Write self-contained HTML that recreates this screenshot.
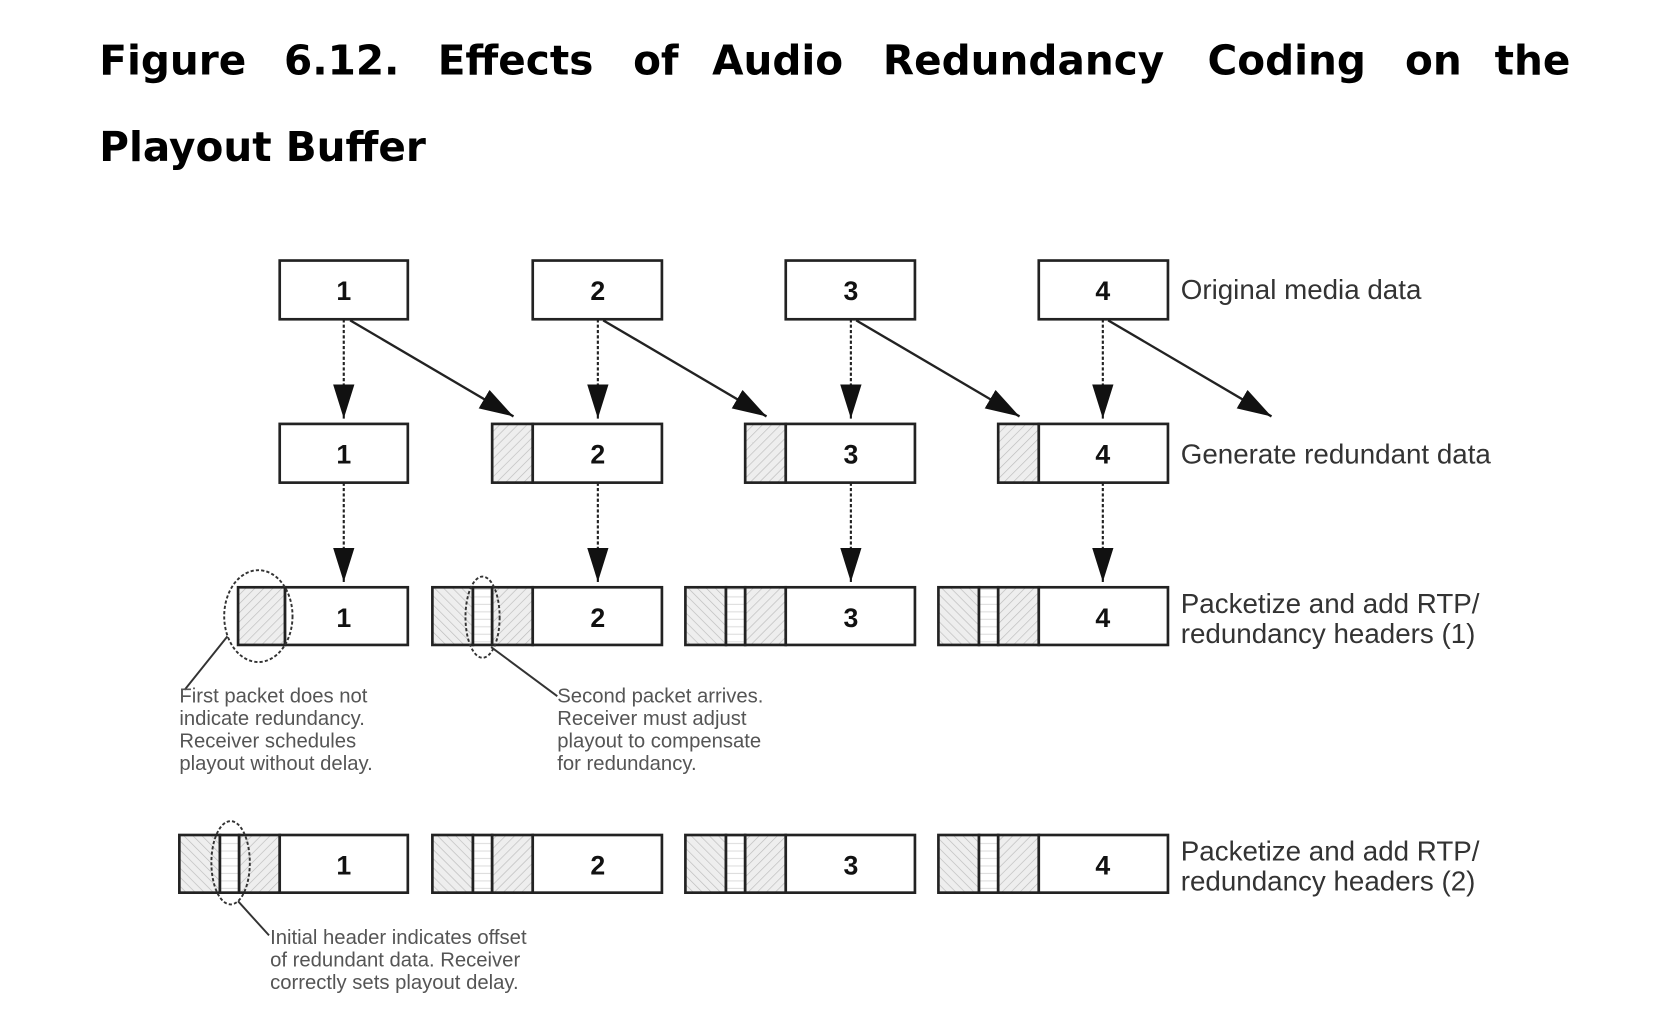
<!DOCTYPE html>
<html><head><meta charset="utf-8"><style>html,body{margin:0;padding:0;background:#fff;}svg{display:block}</style></head>
<body>
<svg width="1674" height="1024" viewBox="0 0 1568 959" preserveAspectRatio="none" xmlns="http://www.w3.org/2000/svg">
<defs>
<pattern id="h1" width="6" height="6" patternUnits="userSpaceOnUse" patternTransform="rotate(45)"><rect width="6" height="6" fill="#eee"/><line x1="0" y1="0" x2="0" y2="6" stroke="#bbb" stroke-width="1.2"/></pattern>
<pattern id="h2" width="6" height="6" patternUnits="userSpaceOnUse" patternTransform="rotate(-45)"><rect width="6" height="6" fill="#eee"/><line x1="0" y1="0" x2="0" y2="6" stroke="#bbb" stroke-width="1.2"/></pattern>
<pattern id="st" width="6" height="7" patternUnits="userSpaceOnUse"><rect width="6" height="7" fill="#fff"/><line x1="0" y1="6" x2="6" y2="6" stroke="#ddd" stroke-width="1"/></pattern>
<marker id="ah" markerWidth="12" markerHeight="14" refX="12" refY="7" orient="auto" markerUnits="userSpaceOnUse" viewBox="0 0 12 14"><path d="M0,0 L12,7 L0,14 Z" fill="#111"/></marker>
<marker id="ahl" markerWidth="32" markerHeight="20" refX="32" refY="10" orient="auto" markerUnits="userSpaceOnUse"><path d="M0,0 L32,10 L0,20 Z" fill="#111"/></marker>
</defs>
<g font-family="DejaVu Sans, Verdana, sans-serif" font-weight="bold" font-size="38" fill="#000">
<text x="93" y="70">Figure</text><text x="266" y="70">6.12.</text><text x="410" y="70">Effects</text><text x="593" y="70">of</text><text x="667" y="70">Audio</text><text x="827" y="70">Redundancy</text><text x="1131" y="70">Coding</text><text x="1316" y="70">on</text><text x="1400" y="70">the</text>
<text x="93" y="151">Playout Buffer</text>
</g>
<g stroke="#222" stroke-width="2.5" fill="#fff">
<!-- row1 -->
<rect x="262" y="244" width="120" height="55"/><rect x="499" y="244" width="121" height="55"/><rect x="736" y="244" width="121" height="55"/><rect x="973" y="244" width="121" height="55"/>
<!-- row2 -->
<rect x="262" y="397" width="120" height="55"/>
<rect x="461" y="397" width="38" height="55" fill="url(#h1)"/><rect x="499" y="397" width="121" height="55"/>
<rect x="698" y="397" width="38" height="55" fill="url(#h1)"/><rect x="736" y="397" width="121" height="55"/>
<rect x="935" y="397" width="38" height="55" fill="url(#h1)"/><rect x="973" y="397" width="121" height="55"/>
<!-- row3 -->
<rect x="223" y="550" width="44" height="54" fill="url(#h1)"/><rect x="267" y="550" width="115" height="54"/>
<rect x="405" y="550" width="38" height="54" fill="url(#h2)"/><rect x="443" y="550" width="18" height="54" fill="url(#st)"/><rect x="461" y="550" width="38" height="54" fill="url(#h1)"/><rect x="499" y="550" width="121" height="54"/>
<rect x="642" y="550" width="38" height="54" fill="url(#h2)"/><rect x="680" y="550" width="18" height="54" fill="url(#st)"/><rect x="698" y="550" width="38" height="54" fill="url(#h1)"/><rect x="736" y="550" width="121" height="54"/>
<rect x="879" y="550" width="38" height="54" fill="url(#h2)"/><rect x="917" y="550" width="18" height="54" fill="url(#st)"/><rect x="935" y="550" width="38" height="54" fill="url(#h1)"/><rect x="973" y="550" width="121" height="54"/>
<!-- row4 -->
<rect x="168" y="782" width="38" height="54" fill="url(#h2)"/><rect x="206" y="782" width="18" height="54" fill="url(#st)"/><rect x="224" y="782" width="38" height="54" fill="url(#h1)"/><rect x="262" y="782" width="120" height="54"/>
<rect x="405" y="782" width="38" height="54" fill="url(#h2)"/><rect x="443" y="782" width="18" height="54" fill="url(#st)"/><rect x="461" y="782" width="38" height="54" fill="url(#h1)"/><rect x="499" y="782" width="121" height="54"/>
<rect x="642" y="782" width="38" height="54" fill="url(#h2)"/><rect x="680" y="782" width="18" height="54" fill="url(#st)"/><rect x="698" y="782" width="38" height="54" fill="url(#h1)"/><rect x="736" y="782" width="121" height="54"/>
<rect x="879" y="782" width="38" height="54" fill="url(#h2)"/><rect x="917" y="782" width="18" height="54" fill="url(#st)"/><rect x="935" y="782" width="38" height="54" fill="url(#h1)"/><rect x="973" y="782" width="121" height="54"/>
</g>
<g font-family="Liberation Sans, sans-serif" font-weight="bold" font-size="25" fill="#111" text-anchor="middle">
<text x="322" y="281">1</text><text x="560" y="281">2</text><text x="797" y="281">3</text><text x="1033" y="281">4</text>
<text x="322" y="434">1</text><text x="560" y="434">2</text><text x="797" y="434">3</text><text x="1033" y="434">4</text>
<text x="322" y="587">1</text><text x="560" y="587">2</text><text x="797" y="587">3</text><text x="1033" y="587">4</text>
<text x="322" y="819">1</text><text x="560" y="819">2</text><text x="797" y="819">3</text><text x="1033" y="819">4</text>
</g>
<g stroke="#222" stroke-width="2" fill="none" stroke-dasharray="3,2">
<line x1="322" y1="299" x2="322" y2="392" marker-end="url(#ahl)"/>
<line x1="560" y1="299" x2="560" y2="392" marker-end="url(#ahl)"/>
<line x1="797" y1="299" x2="797" y2="392" marker-end="url(#ahl)"/>
<line x1="1033" y1="299" x2="1033" y2="392" marker-end="url(#ahl)"/>
<line x1="322" y1="452" x2="322" y2="545" marker-end="url(#ahl)"/>
<line x1="560" y1="452" x2="560" y2="545" marker-end="url(#ahl)"/>
<line x1="797" y1="452" x2="797" y2="545" marker-end="url(#ahl)"/>
<line x1="1033" y1="452" x2="1033" y2="545" marker-end="url(#ahl)"/>
</g>
<g stroke="#222" stroke-width="2.2" fill="none">
<line x1="328" y1="300" x2="481" y2="390" marker-end="url(#ahl)"/>
<line x1="565" y1="300" x2="718" y2="390" marker-end="url(#ahl)"/>
<line x1="802" y1="300" x2="955" y2="390" marker-end="url(#ahl)"/>
<line x1="1038" y1="300" x2="1191" y2="390" marker-end="url(#ahl)"/>
</g>
<g stroke="#333" stroke-width="1.8" fill="none">
<ellipse cx="242" cy="577" rx="32" ry="43" stroke-dasharray="3,2"/>
<ellipse cx="452" cy="578" rx="16" ry="38" stroke-dasharray="3,2"/>
<ellipse cx="216" cy="808" rx="18" ry="39" stroke-dasharray="3,2"/>
<line x1="213" y1="596" x2="173" y2="646"/>
<line x1="460" y1="606" x2="522" y2="652"/>
<line x1="223" y1="844" x2="252" y2="876"/>
</g>
<g font-family="Liberation Sans Narrow, Liberation Sans, sans-serif" font-size="26" fill="#333">
<text x="1106" y="280">Original media data</text>
<text x="1106" y="434">Generate redundant data</text>
<text x="1106" y="574">Packetize and add RTP/</text>
<text x="1106" y="602">redundancy headers (1)</text>
<text x="1106" y="806">Packetize and add RTP/</text>
<text x="1106" y="834">redundancy headers (2)</text>
</g>
<g font-family="Liberation Sans Narrow, Liberation Sans, sans-serif" font-size="19" fill="#555">
<text x="168" y="658">First packet does not</text><text x="168" y="679">indicate redundancy.</text><text x="168" y="700">Receiver schedules</text><text x="168" y="721">playout without delay.</text>
<text x="522" y="658">Second packet arrives.</text><text x="522" y="679">Receiver must adjust</text><text x="522" y="700">playout to compensate</text><text x="522" y="721">for redundancy.</text>
<text x="253" y="884">Initial header indicates offset</text><text x="253" y="905">of redundant data. Receiver</text><text x="253" y="926">correctly sets playout delay.</text>
</g>
</svg>
</body></html>
